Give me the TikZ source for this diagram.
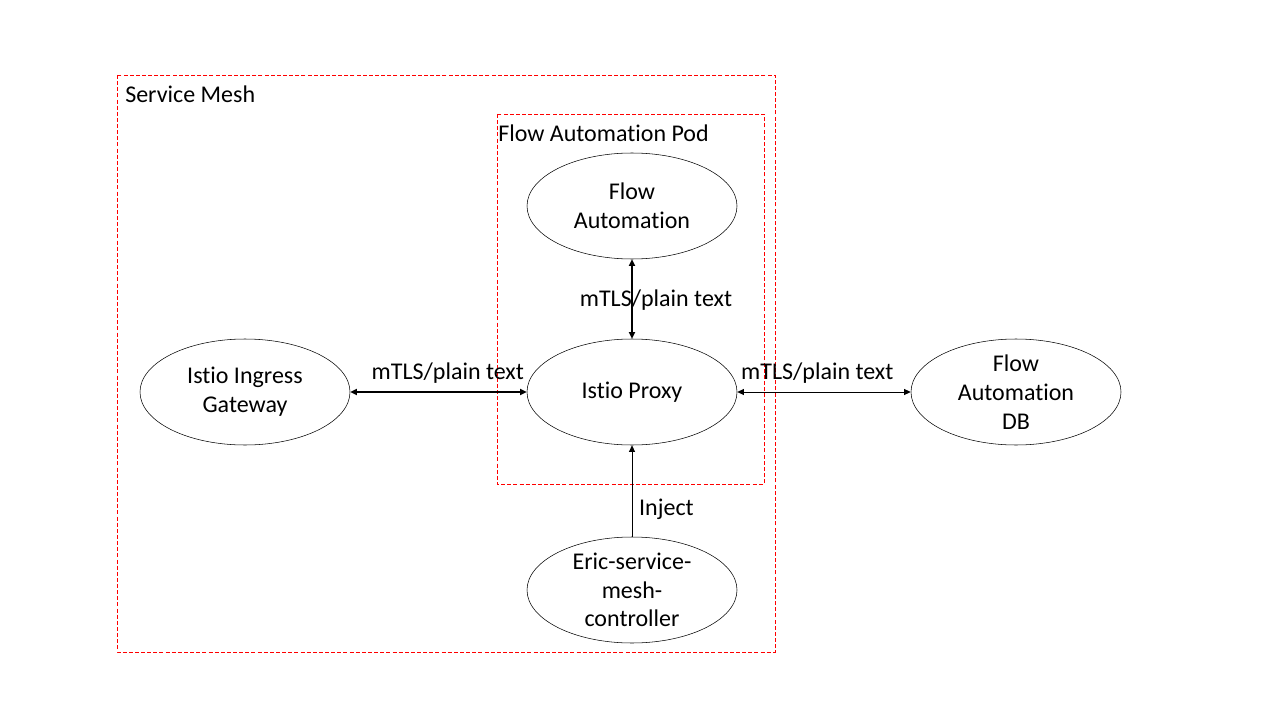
\documentclass[tikz,border=0pt]{standalone}
\usepackage{fontspec}
\setmainfont{Carlito}[Ligatures={NoCommon}]
\usetikzlibrary{shapes.geometric,arrows.meta}
\tikzset {>={Triangle[length=5pt,width=4.5pt]}}
\tikzset{
  comp/.style={draw,ellipse,inner sep=0pt,minimum width=157.5pt,minimum height=79.5pt,align=center,font=\fontsize{18}{21.6}\selectfont},
  meshbox/.style={draw=red,dash pattern=on 3pt off 1.6pt,line width=.7pt},
  lbl/.style={font=\fontsize{18}{21.6}\selectfont}
}

\begin{document}
\begin{tikzpicture}[x=.75pt,y=-.75pt]
\useasboundingbox (0,0) rectangle (1280,720);
% containers
\coordinate (SM1) at (117,75);
\coordinate (SM2) at (775,652);
\draw[meshbox] (SM1) rectangle (SM2);
\node[lbl,anchor=base west,inner sep=0pt] (smlbl) at (125,103) {Service Mesh};
\coordinate (POD1) at (497,114);
\coordinate (POD2) at (764,484);
\draw[meshbox] (POD1) rectangle (POD2);
\node[lbl,anchor=base west,inner sep=0pt] (podlbl) at (498,142) {Flow Automation Pod};
% components
\node[comp] (fa) at (632,206) {Flow\\Automation};
\node[comp] (proxy) at (632,392) {Istio Proxy};
\node[comp] (gw) at (245,392) {Istio Ingress\\Gateway};
\node[comp] (db) at (1016,392) {Flow\\Automation\\DB};
\node[comp] (ctrl) at (632,590) {Eric-service-\\mesh-\\controller};
% links
\draw[<->,line width=1.5pt] (gw) -- node[lbl,above,xshift=7pt,inner sep=6pt] {mTLS/plain text} (proxy);
\draw[<->,line width=1.5pt] (fa) -- node[lbl,xshift=18pt,yshift=-1pt] {mTLS/plain text} (proxy);
\draw[<->,line width=.75pt] (proxy) -- node[lbl,above,xshift=-5pt,inner sep=6pt] {mTLS/plain text} (db);
\draw[->,line width=.75pt] (ctrl) -- node[lbl,right,pos=.3,inner sep=5pt] {Inject} (proxy);
\end{tikzpicture}
\end{document}
